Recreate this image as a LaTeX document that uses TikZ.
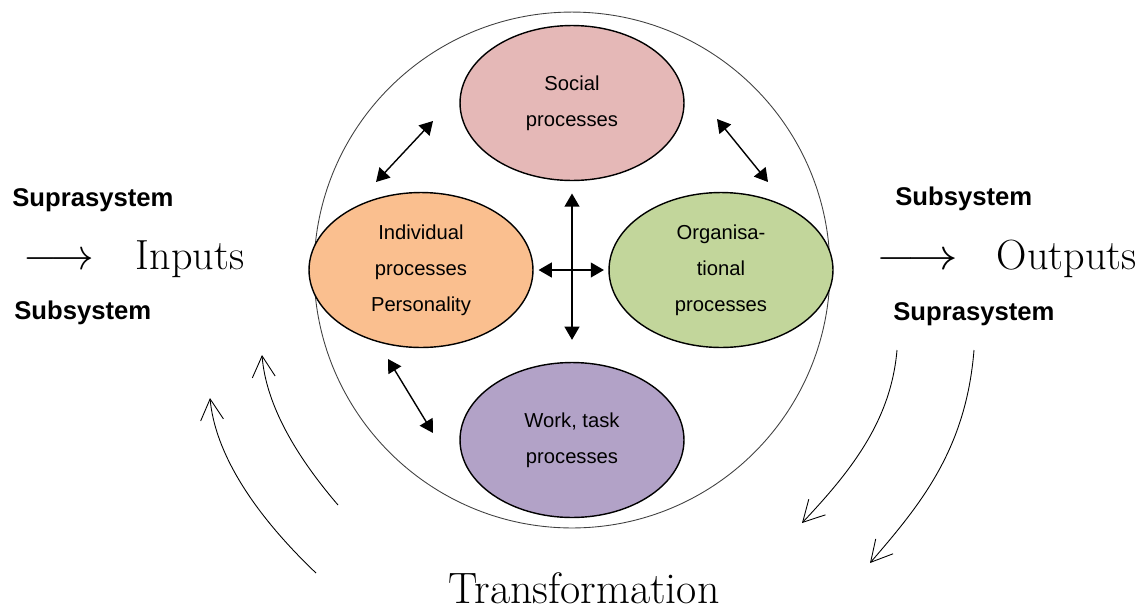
\documentclass[tikz,border=0pt]{standalone}
\usepackage{fontspec}
\usepackage{xcolor}
\usepackage{tikz}
\usetikzlibrary{shapes.geometric, arrows.meta}
\newfontfamily\arialfont{Liberation Sans}
\definecolor{socialPink}{RGB}{229, 184, 183}
\definecolor{individualOrange}{RGB}{250, 191, 143}
\definecolor{organisationGreen}{RGB}{194, 214, 155}
\definecolor{workPurple}{RGB}{178, 162, 199}

\begin{document}
\begin{tikzpicture}[
    x=0.02cm, y=-0.02cm,
    process/.style={
        ellipse,
        draw=black,
        fill=#1,
        line width=0.8pt,
        minimum width=4.48cm,
        minimum height=3.1cm,
        inner sep=0pt,
        align=center,
        font=\arialfont\fontsize{11.5}{20.4}\selectfont
    },
    syslabel/.style={anchor=base west, inner sep=0pt, font=\arialfont\bfseries\fontsize{14.6}{17}\selectfont},
    bigword/.style={anchor=base west, inner sep=0pt, font=\fontsize{24}{28}\selectfont},
    link/.style={{Triangle[length=7.5pt,width=8.5pt]}-{Triangle[length=7.5pt,width=8.5pt]}, line width=0.8pt},
    flow/.style={-{Straight Barb[length=12pt,width=13pt]}, line width=0.5pt}
]
    \useasboundingbox (0,0) rectangle (1142,609);

    % System
    \node[circle, draw=black!75, line width=0.5pt, minimum size=10.32cm, inner sep=0pt] (system) at (572,270) {};

    % Processes
    \node[process=socialPink] (social) at (572,103) {Social\\processes};
    \node[process=individualOrange] (individual) at (421,270) {Individual\\processes\\Personality};
    \node[process=organisationGreen] (organisation) at (721,270) {Organisa-\\tional\\processes};
    \node[process=workPurple] (work) at (572,440) {Work, task\\processes};

    % Environment
    \node[syslabel] (supraIn) at (12,206) {Suprasystem};
    \node[syslabel] (subIn) at (14,319) {Subsystem};
    \node[syslabel] (subOut) at (895,205) {Subsystem};
    \node[syslabel] (supraOut) at (893,320) {Suprasystem};
    \node[bigword] (inputs) at (23,269) {$\longrightarrow$\hspace{24pt}Inputs};
    \node[bigword] (outputs) at (876,269) {\scalebox{1.16}[1]{$\longrightarrow$}\hspace{22pt}Outputs};
    \node[bigword, anchor=base, font=\fontsize{25}{28}\selectfont] (transformation) at (584,603) {Transformation};

    % Arrows
    \coordinate (si-a) at (433,121);
    \coordinate (si-b) at (376,182);
    \coordinate (so-a) at (717,119);
    \coordinate (so-b) at (768,182);
    \coordinate (iw-a) at (388,359);
    \coordinate (iw-b) at (433,433);
    \draw[link] (si-a) -- (si-b);
    \draw[link] (so-a) -- (so-b);
    \draw[link] (iw-a) -- (iw-b);
    \draw[link, shorten <=7pt, shorten >=12.5pt] (social.south) -- (work.north);
    \draw[link, shorten <=2.8pt, shorten >=2.5pt] (individual.east) -- (organisation.west);

    % Feedback
    \coordinate (back-a) at (316,573);
    \coordinate (back-a-end) at (210,398);
    \coordinate (back-b) at (338,505);
    \coordinate (back-b-end) at (262,355);
    \coordinate (out-a) at (897,350);
    \coordinate (out-a-end) at (802,523);
    \coordinate (out-b) at (974,350);
    \coordinate (out-b-end) at (870,563);
    \draw[flow] (back-a) .. controls (252,512) and (215,452) .. (back-a-end);
    \draw[flow] (back-b) .. controls (296,456) and (266,405) .. (back-b-end);
    \draw[flow] (out-a) .. controls (891,420) and (852,470) .. (out-a-end);
    \draw[flow] (out-b) .. controls (966,450) and (920,505) .. (out-b-end);

\end{tikzpicture}
\end{document}
